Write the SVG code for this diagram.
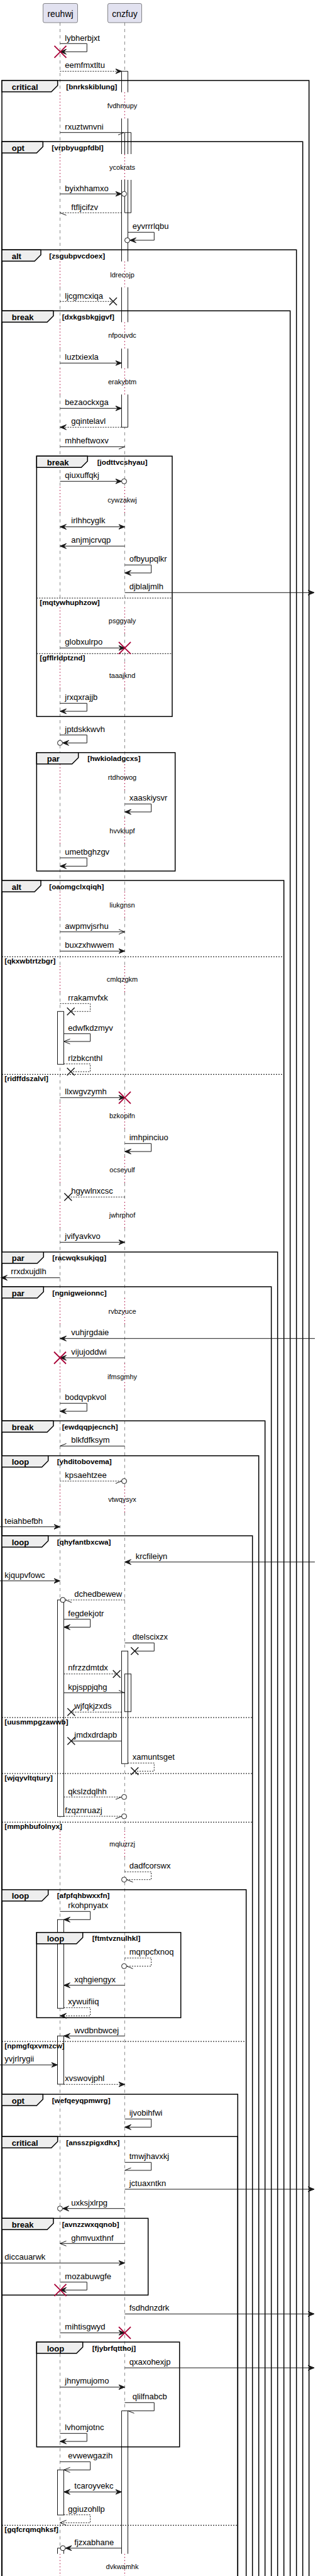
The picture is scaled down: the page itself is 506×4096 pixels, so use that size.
<svg xmlns="http://www.w3.org/2000/svg" xmlns:xlink="http://www.w3.org/1999/xlink" width="506" height="4096" viewBox="0 0 506 4096">
<style>
text{font-family:"Liberation Sans",Arial,sans-serif;fill:#000}
.pn{font-size:14px;text-anchor:middle}
.m{font-size:13px}
.dt{font-size:11px;text-anchor:middle}
.fl{font-size:13px;font-weight:bold}
.fg{font-size:11.7px;font-weight:bold}
.pb{fill:#E2E2F0;stroke:#181818;stroke-width:0.5}
.ll{fill:none;stroke:#181818;stroke-width:0.5;stroke-dasharray:5,5}
.dl{fill:none;stroke:#A80036;stroke-width:1;stroke-dasharray:1.5,3.5}
.ab{fill:#fff;stroke:none}
.act{fill:#fff;stroke:#181818;stroke-width:1}
.ae{fill:none;stroke:#181818;stroke-width:1}
.fr{fill:none;stroke:#000;stroke-width:1.5}
.tb{fill:#EEEEEE;stroke:#000;stroke-width:1.5}
.sp{fill:none;stroke:#000;stroke-width:1;stroke-dasharray:2,2}
.ml{fill:none;stroke:#181818;stroke-width:1}
.d{stroke-dasharray:2,2}
.rx{fill:none;stroke:#A80036;stroke-width:1.8}
.bx{fill:none;stroke:#181818;stroke-width:1.5}
.ci{fill:#fff;stroke:#181818;stroke-width:1}
</style>
<defs>
<marker id="af" viewBox="0 -5 12 10" refX="10" refY="0" markerWidth="12" markerHeight="10" markerUnits="userSpaceOnUse" orient="auto-start-reverse"><path d="M0,-4L10,0L0,4L4,0Z" fill="#181818" stroke="#181818" stroke-width="1"/></marker>
<marker id="ao" viewBox="0 -5 12 10" refX="10" refY="0" markerWidth="12" markerHeight="10" markerUnits="userSpaceOnUse" orient="auto"><path d="M0,-4L10,0L0,4" fill="none" stroke="#181818" stroke-width="1"/></marker>
<marker id="hp" viewBox="0 -5 12 10" refX="10" refY="0" markerWidth="12" markerHeight="10" markerUnits="userSpaceOnUse" orient="auto"><path d="M0,4L10,0" fill="none" stroke="#181818" stroke-width="1"/></marker>
<marker id="hn" viewBox="0 -5 12 10" refX="10" refY="0" markerWidth="12" markerHeight="10" markerUnits="userSpaceOnUse" orient="auto"><path d="M0,-4L10,0" fill="none" stroke="#181818" stroke-width="1"/></marker>
<path id="rX" class="rx" d="M-9.5,-9.5L9.5,9.5M9.5,-9.5L-9.5,9.5"/>
<path id="bX" class="bx" d="M-6,-6L6,6M6,-6L-6,6"/>
<circle id="cO" class="ci" r="4"/>
<path id="lls" d="M0,36V146.7M0,188.3V245M0,286V415.7M0,456.7V512.3M0,554.3V585.7M0,627.3V774M0,815.7V965.7M0,1007.3V1053.3M0,1095V1215M0,1256.7V1300M0,1341.7V1417.7M0,1459.3V1536M0,1577.7V1753.3M0,1795V1839.3M0,1881V1911M0,1952.7V2064M0,2105.7V2167.7M0,2209.3V2363.3M0,2405V2911M0,2952.7V4060.7"/>
<path id="dls" d="M0,146.7V188.3M0,245V286M0,415.7V456.7M0,512.3V554.3M0,585.7V627.3M0,774V815.7M0,965.7V1007.3M0,1053.3V1095M0,1215V1256.7M0,1300V1341.7M0,1417.7V1459.3M0,1536V1577.7M0,1753.3V1795M0,1839.3V1881M0,1911V1952.7M0,2064V2105.7M0,2167.7V2209.3M0,2363.3V2405M0,2911V2952.7M0,4060.7V4100"/>
</defs>
<rect width="506" height="4096" fill="#fff"/>

<g id="lifelines">
<use xlink:href="#lls" href="#lls" x="95.5" class="ll"/>
<use xlink:href="#lls" href="#lls" x="198.5" class="ll"/>
<use xlink:href="#dls" href="#dls" x="95.5" class="dl"/>
<use xlink:href="#dls" href="#dls" x="198.5" class="dl"/>
</g>

<g id="reuhwj"><rect class="pb" x="68.5" y="5.5" width="55" height="30.5" rx="2.5"/><text class="pn" x="96" y="26.5">reuhwj</text></g>
<g id="cnzfuy"><rect class="pb" x="171.5" y="5.5" width="54" height="30.5" rx="2.5"/><text class="pn" x="198.5" y="26.5">cnzfuy</text></g>

<g id="activations">
<rect class="ab" x="193.5" y="113.3" width="10" height="33.4"/>
<rect class="ab" x="193.5" y="188.3" width="10" height="56.7"/>
<rect class="ab" x="193.5" y="286" width="10" height="129.7"/>
<rect class="ab" x="193.5" y="456.7" width="10" height="55.6"/>
<rect class="ab" x="193.5" y="554.3" width="10" height="31.4"/>
<rect class="ab" x="193.5" y="627.3" width="10" height="52"/>
<rect class="ab" x="198.5" y="210.7" width="10" height="34.3"/>
<rect class="ab" x="198.5" y="286" width="10" height="52.3"/>
<path class="ae" d="M193.5,113.3H203.5M193.5,113.3V146.7M203.5,113.3V146.7M193.5,188.3V245M203.5,188.3V245M193.5,286V415.7M203.5,286V415.7M193.5,456.7V512.3M203.5,456.7V512.3M193.5,554.3V585.7M203.5,554.3V585.7M193.5,627.3V679.3M203.5,627.3V679.3M193.5,679.3H203.5"/>
<path class="ae" d="M198.5,210.7H208.5M198.5,210.7V245M208.5,210.7V245M198.5,286V338.3M208.5,286V338.3M198.5,338.3H208.5"/>
<rect class="act" x="193.5" y="2625.3" width="10" height="179"/>
<rect class="act" x="198.5" y="2661.7" width="10" height="60"/>
<path class="ae" d="M203.5,2661.7V2721.7"/>
<rect class="ab" x="193.5" y="3833.3" width="10" height="227.4"/>
<path class="ae" d="M193.5,3833.3H203.5M193.5,3833.3V4060.7M203.5,3833.3V4060.7"/>
<rect class="act" x="91.5" y="1608.3" width="10" height="84"/>
<rect class="act" x="91.5" y="2544" width="10" height="344.3"/>
<rect class="act" x="91.5" y="3052.3" width="10" height="141"/>
<rect class="act" x="91.5" y="3237.3" width="10" height="76.7"/>
<rect class="act" x="91.5" y="3927.3" width="10" height="71.7"/>
<rect class="ab" x="91.5" y="4051.7" width="10" height="9"/>
<path class="ae" d="M91.5,4051.7H101.5M91.5,4051.7V4060.7M101.5,4051.7V4060.7"/>
</g>

<g id="frames">
<g id="f-critical-bnrkskiblung"><path class="fr" d="M3,4120V128H491.7V4120"/><path class="tb" d="M3,128H91.7V136L81.7,146H3Z"/><text class="fl" x="18.7" y="142.5">critical</text><text class="fg" x="105.3" y="141.7">[bnrkskiblung]</text></g>
<g id="f-opt-vrpbyugpfdbl"><path class="fr" d="M3,4120V225.3H481.7V4120"/><path class="tb" d="M3,225.3H68.3V233.3L58.3,243.3H3Z"/><text class="fl" x="18.7" y="239.8">opt</text><text class="fg" x="82.3" y="239">[vrpbyugpfdbl]</text></g>
<g id="f-alt-zsgubpvcdoex"><path class="fr" d="M3,4120V397.3H471.7V4120"/><path class="tb" d="M3,397.3H65V405.3L55,415.3H3Z"/><text class="fl" x="18.7" y="411.8">alt</text><text class="fg" x="78.3" y="411">[zsgubpvcdoex]</text></g>
<g id="f-break-dxkgsbkgjgvf"><path class="fr" d="M3,4120V494.3H461.7V4120"/><path class="tb" d="M3,494.3H85V502.3L75,512.3H3Z"/><text class="fl" x="18.7" y="508.8">break</text><text class="fg" x="98.7" y="508">[dxkgsbkgjgvf]</text></g>
<g id="f-break-jodttvcshyau"><rect class="fr" x="58.3" y="725.3" width="215.7" height="414"/><path class="tb" d="M58.3,725.3H139.3V733.3L129.3,743.3H58.3Z"/><text class="fl" x="74.7" y="739.8">break</text><text class="fg" x="154.7" y="739">[jodttvcshyau]</text>
<path class="sp" d="M58.3,951H274"/><text class="fg" x="63.3" y="961.8">[mqtywhuphzow]</text>
<path class="sp" d="M58.3,1039.3H274"/><text class="fg" x="63.3" y="1050.1">[gfflrldptznd]</text></g>
<g id="f-par-hwkioladgcxs"><rect class="fr" x="58.3" y="1196.7" width="220.4" height="188.3"/><path class="tb" d="M58.3,1196.7H124.7V1204.7L114.7,1214.7H58.3Z"/><text class="fl" x="74.7" y="1211.2">par</text><text class="fg" x="139.3" y="1210.4">[hwkioladgcxs]</text></g>
<g id="f-alt-oaomgclxqiqh"><path class="fr" d="M3,4120V1400H451.7V4120"/><path class="tb" d="M3,1400H65V1408L55,1418H3Z"/><text class="fl" x="18.7" y="1414.5">alt</text><text class="fg" x="78.3" y="1413.7">[oaomgclxqiqh]</text>
<path class="sp" d="M3,1521.3H451.7"/><text class="fg" x="7.3" y="1532.1">[qkxwbtrtzbgr]</text>
<path class="sp" d="M3,1708.3H451.7"/><text class="fg" x="7.3" y="1719.1">[ridffdszalvl]</text></g>
<g id="f-par-racwqksukjqg"><path class="fr" d="M3,4120V1990.7H441.7V4120"/><path class="tb" d="M3,1990.7H69.3V1998.7L59.3,2008.7H3Z"/><text class="fl" x="18.7" y="2005.2">par</text><text class="fg" x="83.3" y="2004.4">[racwqksukjqg]</text></g>
<g id="f-par-ngnigweionnc"><path class="fr" d="M3,4120V2046H431.7V4120"/><path class="tb" d="M3,2046H69.3V2054L59.3,2064H3Z"/><text class="fl" x="18.7" y="2060.5">par</text><text class="fg" x="83.3" y="2059.7">[ngnigweionnc]</text></g>
<g id="f-break-ewdqqpjecnch"><path class="fr" d="M3,4120V2259.3H421.7V4120"/><path class="tb" d="M3,2259.3H85V2267.3L75,2277.3H3Z"/><text class="fl" x="18.7" y="2273.8">break</text><text class="fg" x="98.7" y="2273">[ewdqqpjecnch]</text></g>
<g id="f-loop-yhditobovema"><path class="fr" d="M3,4120V2314.7H411.7V4120"/><path class="tb" d="M3,2314.7H76.7V2322.7L66.7,2332.7H3Z"/><text class="fl" x="18.7" y="2329.2">loop</text><text class="fg" x="90.7" y="2328.4">[yhditobovema]</text></g>
<g id="f-loop-qhyfantbxcwa"><path class="fr" d="M3,4120V2442H401.7V4120"/><path class="tb" d="M3,2442H76.7V2450L66.7,2460H3Z"/><text class="fl" x="18.7" y="2456.5">loop</text><text class="fg" x="90.7" y="2455.7">[qhyfantbxcwa]</text>
<path class="sp" d="M3,2731H401.7"/><text class="fg" x="7.3" y="2741.8">[uusmmpgzawwb]</text>
<path class="sp" d="M3,2820H401.7"/><text class="fg" x="7.3" y="2830.8">[wjqyvltqtury]</text>
<path class="sp" d="M3,2897.3H401.7"/><text class="fg" x="7.3" y="2908.1">[mmphbufolnyx]</text></g>
<g id="f-loop-afpfqhbwxxfn"><path class="fr" d="M3,4120V3004.7H391.7V4120"/><path class="tb" d="M3,3004.7H76.7V3012.7L66.7,3022.7H3Z"/><text class="fl" x="18.7" y="3019.2">loop</text><text class="fg" x="90.7" y="3018.4">[afpfqhbwxxfn]</text>
<path class="sp" d="M3,3246H391.7"/><text class="fg" x="7.3" y="3256.8">[npmgfqxvmzcw]</text></g>
<g id="f-loop-ftmtvznulhkl"><rect class="fr" x="58.3" y="3072.7" width="229.4" height="135.6"/><path class="tb" d="M58.3,3072.7H131.7V3080.7L121.7,3090.7H58.3Z"/><text class="fl" x="74.7" y="3087.2">loop</text><text class="fg" x="146.7" y="3086.4">[ftmtvznulhkl]</text></g>
<g id="f-opt-wefqeyqpmwrg"><path class="fr" d="M3,4120V3330H378.3V4120"/><path class="tb" d="M3,3330H68.3V3338L58.3,3348H3Z"/><text class="fl" x="18.7" y="3344.5">opt</text><text class="fg" x="82.7" y="3343.7">[wefqeyqpmwrg]</text></g>
<g id="f-critical-ansszpigxdhx"><path class="fr" d="M3,4120V3397.3H378.3V4120"/><path class="tb" d="M3,3397.3H91.7V3405.3L81.7,3415.3H3Z"/><text class="fl" x="18.7" y="3411.8">critical</text><text class="fg" x="105.3" y="3411">[ansszpigxdhx]</text>
<path class="sp" d="M3,4015.3H378.3"/><text class="fg" x="7.3" y="4026.1">[gqfcrqmqhksf]</text></g>
<g id="f-break-avnzzwxqqnob"><rect class="fr" x="3" y="3527.3" width="232.7" height="122"/><path class="tb" d="M3,3527.3H85V3535.3L75,3545.3H3Z"/><text class="fl" x="18.7" y="3541.8">break</text><text class="fg" x="98.7" y="3541">[avnzzwxqqnob]</text></g>
<g id="f-loop-fjybrfqtthoj"><rect class="fr" x="58.3" y="3724" width="227.4" height="166.7"/><path class="tb" d="M58.3,3724H131.7V3732L121.7,3742H58.3Z"/><text class="fl" x="74.7" y="3738.5">loop</text><text class="fg" x="146.7" y="3737.7">[fjybrfqtthoj]</text></g>
</g>

<g id="connectors">
<g><path class="ml" d="M95.5,69.3H138.3V82.3H95.5" marker-end="url(#af)"/><use href="#rX" xlink:href="#rX" x="96" y="82.3"/><text class="m" x="103.3" y="64.5">lybherbjxt</text></g>
<g><path class="ml d" d="M95.5,113.3H193.5" marker-end="url(#af)"/><text class="m" x="103.3" y="107.5">eemfmxtltu</text></g>
<g><path class="ml" d="M95.5,210.7H197.5" marker-end="url(#hp)"/><text class="m" x="103.3" y="205.5">rxuztwnvni</text></g>
<g><path class="ml" d="M95.5,308.3H193.5" marker-end="url(#af)"/><use href="#cO" xlink:href="#cO" x="197.5" y="308.3"/><text class="m" x="103.3" y="303.5">byixhhamxo</text></g>
<g><path class="ml d" d="M193.5,338.3H95.5" marker-end="url(#hn)"/><text class="m" x="113.3" y="333.5">ftfljcifzv</text></g>
<g><path class="ml" d="M203.5,369.3H245.3V382H206.5" marker-end="url(#af)"/><use href="#cO" xlink:href="#cO" x="202.5" y="382"/><text class="m" x="210.7" y="364.3">eyvrrrlqbu</text></g>
<g><path class="ml d" d="M95.5,479.3H180"/><use href="#bX" xlink:href="#bX" x="180" y="479.3"/><text class="m" x="103.3" y="474.5">ljcgmcxiqa</text></g>
<g><path class="ml" d="M95.5,577.3H193.5" marker-end="url(#af)"/><text class="m" x="103.3" y="572">luztxiexla</text></g>
<g><path class="ml" d="M95.5,649.3H193.5" marker-end="url(#af)"/><text class="m" x="103.3" y="644">bezaockxga</text></g>
<g><path class="ml d" d="M193.5,679.3H95.5" marker-end="url(#af)"/><text class="m" x="113.3" y="674.3">gqintelavl</text></g>
<g><path class="ml" d="M95.5,710.3H198.5" marker-end="url(#hp)"/><text class="m" x="103.3" y="705">mhheftwoxv</text></g>
<g><path class="ml" d="M95.5,765.3H193.5" marker-end="url(#af)"/><use href="#cO" xlink:href="#cO" x="197.5" y="765.3"/><text class="m" x="103.3" y="760">qiuxuffqkj</text></g>
<g><path class="ml" d="M95.5,837.7H198.5" marker-start="url(#af)" marker-end="url(#af)"/><text class="m" x="113.3" y="832.3">irlhhcyglk</text></g>
<g><path class="ml" d="M198.5,868.3H95.5" marker-end="url(#af)"/><text class="m" x="113.3" y="863.3">anjmjcrvqp</text></g>
<g><path class="ml" d="M198.5,898.3H240.7V911H198.5" marker-end="url(#af)"/><text class="m" x="205.7" y="893.3">ofbyupqlkr</text></g>
<g><path class="ml" d="M198.5,942.3H500" marker-end="url(#af)"/><text class="m" x="205.7" y="937">djblaljmlh</text></g>
<g><path class="ml" d="M95.5,1030.3H198.5" marker-end="url(#af)"/><use href="#rX" xlink:href="#rX" x="198.5" y="1030.3"/><text class="m" x="103.3" y="1025">globxulrpo</text></g>
<g><path class="ml" d="M95.5,1118.3H138.3V1131H95.5" marker-end="url(#af)"/><text class="m" x="103.3" y="1113.3">jrxqxrajjb</text></g>
<g><path class="ml" d="M95.5,1168.7H138.3V1181.3H99.5" marker-end="url(#af)"/><use href="#cO" xlink:href="#cO" x="95.5" y="1181.3"/><text class="m" x="103.3" y="1163.7">jptdskkwvh</text></g>
<g><path class="ml" d="M198.5,1278.3H240.7V1291H198.5" marker-end="url(#af)"/><text class="m" x="205.7" y="1273.3">xaaskiysvr</text></g>
<g><path class="ml" d="M95.5,1364H138.3V1377.3H95.5" marker-end="url(#af)"/><text class="m" x="103.3" y="1359">umetbghzgv</text></g>
<g><path class="ml" d="M95.5,1481.7H198.5" marker-end="url(#ao)"/><text class="m" x="103.3" y="1476.5">awpmvjsrhu</text></g>
<g><path class="ml" d="M95.5,1512.3H198.5" marker-end="url(#af)"/><text class="m" x="103.3" y="1507">buxzxhwwem</text></g>
<g><path class="ml d" d="M95.5,1595.7H143.7V1608.3H112.7"/><use href="#bX" xlink:href="#bX" x="112.7" y="1608.3"/><text class="m" x="108.3" y="1590.7">rrakamvfxk</text></g>
<g><path class="ml" d="M101.5,1643.7H143.7V1656H101.5" marker-end="url(#ao)"/><text class="m" x="108.3" y="1638.7">edwfkdzmyv</text></g>
<g><path class="ml d" d="M101.5,1691.7H143.7V1704H112.7"/><use href="#bX" xlink:href="#bX" x="112.7" y="1704"/><text class="m" x="108.3" y="1686.7">rlzbkcnthl</text></g>
<g><path class="ml" d="M95.5,1745.3H198.5" marker-end="url(#af)"/><use href="#rX" xlink:href="#rX" x="198.5" y="1745.3"/><text class="m" x="103.3" y="1740">llxwgvzymh</text></g>
<g><path class="ml" d="M198.5,1818.3H240.7V1831H198.5" marker-end="url(#af)"/><text class="m" x="205.7" y="1813.3">imhpinciuo</text></g>
<g><path class="ml d" d="M198.5,1903.3H108.3"/><use href="#bX" xlink:href="#bX" x="108.3" y="1903.3"/><text class="m" x="113.3" y="1898">hgywlnxcsc</text></g>
<g><path class="ml" d="M95.5,1975.3H198.5" marker-end="url(#af)"/><text class="m" x="103.3" y="1970">jvifyavkvo</text></g>
<g><path class="ml" d="M95.5,2031.7H1.5" marker-end="url(#af)"/><text class="m" x="17.3" y="2026.3">rrxdxujdlh</text></g>
<g><path class="ml" d="M501,2128.3H95.5" marker-end="url(#af)"/><text class="m" x="113.3" y="2123.3">vuhjrgdaie</text></g>
<g><path class="ml" d="M198.5,2159H95.5" marker-end="url(#af)"/><use href="#rX" xlink:href="#rX" x="95.5" y="2159"/><text class="m" x="113.3" y="2153.7">vijujoddwi</text></g>
<g><path class="ml" d="M95.5,2231.3H138.3V2244H95.5" marker-end="url(#af)"/><text class="m" x="103.3" y="2226.3">bodqvpkvol</text></g>
<g><path class="ml" d="M198.5,2299.3H95.5" marker-end="url(#hp)"/><text class="m" x="113.3" y="2294.3">blkfdfksym</text></g>
<g><path class="ml d" d="M95.5,2355H193.5" marker-end="url(#hp)"/><use href="#cO" xlink:href="#cO" x="197.5" y="2355"/><text class="m" x="103.3" y="2350">kpsaehtzee</text></g>
<g><path class="ml" d="M0,2427.7H95.5" marker-end="url(#af)"/><text class="m" x="7.3" y="2422.5">teiahbefbh</text></g>
<g><path class="ml" d="M501,2483.7H198.5" marker-end="url(#af)"/><text class="m" x="215.7" y="2478.5">krcfileiyn</text></g>
<g><path class="ml" d="M0,2513.7H95.5" marker-end="url(#af)"/><text class="m" x="7.3" y="2508.5">kjqupvfowc</text></g>
<g><path class="ml d" d="M198.5,2544H104" marker-end="url(#hn)"/><use href="#cO" xlink:href="#cO" x="100" y="2544"/><text class="m" x="118.3" y="2538.5">dchedbewew</text></g>
<g><path class="ml" d="M101.5,2574.7H143.7V2587.3H101.5" marker-end="url(#af)"/><text class="m" x="108.3" y="2569.7">fegdekjotr</text></g>
<g><path class="ml" d="M198.5,2612.3H245.3V2625.3H214.3"/><use href="#bX" xlink:href="#bX" x="214.3" y="2625.3"/><text class="m" x="210.7" y="2607.3">dtelscixzx</text></g>
<g><path class="ml d" d="M101.5,2661.7H185.7"/><use href="#bX" xlink:href="#bX" x="185.7" y="2661.7"/><text class="m" x="108.3" y="2656.3">nfrzzdmtdx</text></g>
<g><path class="ml" d="M101.5,2691.7H198.5" marker-end="url(#hn)"/><text class="m" x="108.3" y="2686.5">kpjsppjqhg</text></g>
<g><path class="ml d" d="M193.5,2722.3H113.3"/><use href="#bX" xlink:href="#bX" x="113.3" y="2722.3"/><text class="m" x="118.3" y="2717">wjfqkjzxds</text></g>
<g><path class="ml" d="M193.5,2768.3H113.3"/><use href="#bX" xlink:href="#bX" x="113.3" y="2768.3"/><text class="m" x="118.3" y="2763">jmdxdrdapb</text></g>
<g><path class="ml d" d="M203.5,2803.3H245.3V2816.3H214.3"/><use href="#bX" xlink:href="#bX" x="214.3" y="2816.3"/><text class="m" x="210.7" y="2798.3">xamuntsget</text></g>
<g><path class="ml d" d="M101.5,2857.3H193.5" marker-end="url(#hp)"/><use href="#cO" xlink:href="#cO" x="197.5" y="2857.3"/><text class="m" x="108.3" y="2852.5">qkslzdqlhh</text></g>
<g><path class="ml d" d="M101.5,2888H193.5" marker-end="url(#hp)"/><use href="#cO" xlink:href="#cO" x="197.5" y="2888"/><text class="m" x="103.3" y="2882.7">fzqznruazj</text></g>
<g><path class="ml d" d="M198.5,2976.3H240.7V2988.7H201.5" marker-end="url(#hn)"/><use href="#cO" xlink:href="#cO" x="197.5" y="2988.7"/><text class="m" x="205.7" y="2971.3">dadfcorswx</text></g>
<g><path class="ml" d="M95.5,3039.3H143.7V3052.3H101.5" marker-end="url(#af)"/><text class="m" x="108.3" y="3034.3">rkohpnyatx</text></g>
<g><path class="ml d" d="M198.5,3113.3H240.7V3126.3H201.5" marker-end="url(#hn)"/><use href="#cO" xlink:href="#cO" x="197.5" y="3126.3"/><text class="m" x="205.7" y="3108.3">mqnpcfxnoq</text></g>
<g><path class="ml" d="M198.5,3156.7H101.5" marker-end="url(#af)"/><text class="m" x="118.3" y="3151.7">xqhgiengyx</text></g>
<g><path class="ml d" d="M101.5,3192.3H143.7V3205.3H95.5" marker-end="url(#af)"/><text class="m" x="108.3" y="3187.3">xywuifiiq</text></g>
<g><path class="ml" d="M198.5,3237.3H101.5" marker-end="url(#af)"/><text class="m" x="118.3" y="3232.5">wvdbnbwcej</text></g>
<g><path class="ml" d="M0,3283.3H91.5" marker-end="url(#af)"/><text class="m" x="7.3" y="3278.3">yvjrlrygii</text></g>
<g><path class="ml d" d="M101.5,3314.3H198.5" marker-end="url(#af)"/><text class="m" x="103.3" y="3308.5">xvswovjphl</text></g>
<g><path class="ml" d="M198.5,3369.3H240.7V3382.3H198.5" marker-end="url(#af)"/><text class="m" x="205.7" y="3364.3">ijvobihfwi</text></g>
<g><path class="ml" d="M198.5,3438.3H240.7V3451H198.5" marker-end="url(#hp)"/><text class="m" x="205.7" y="3433.3">tmwjhavxkj</text></g>
<g><path class="ml" d="M198.5,3481H500" marker-end="url(#af)"/><text class="m" x="205.7" y="3476">jctuaxntkn</text></g>
<g><path class="ml" d="M198.5,3511.7H99.5" marker-end="url(#af)"/><use href="#cO" xlink:href="#cO" x="95.5" y="3511.7"/><text class="m" x="113.3" y="3506.7">uxksjxlrpg</text></g>
<g><path class="ml" d="M198.5,3567.3H95.5" marker-end="url(#ao)"/><text class="m" x="113.3" y="3562.5">ghmvuxthnf</text></g>
<g><path class="ml" d="M0,3598.3H198.5" marker-end="url(#af)"/><text class="m" x="7.3" y="3593">diccauarwk</text></g>
<g><path class="ml" d="M95.5,3628.7H138.3V3641.3H95.5" marker-end="url(#af)"/><use href="#rX" xlink:href="#rX" x="96" y="3641.3"/><text class="m" x="103.3" y="3623.7">mozabuwgfe</text></g>
<g><path class="ml" d="M198.5,3679.3H500" marker-end="url(#af)"/><text class="m" x="205.7" y="3674">fsdhdnzdrk</text></g>
<g><path class="ml" d="M95.5,3709.3H198.5" marker-end="url(#af)"/><use href="#rX" xlink:href="#rX" x="198.5" y="3709.3"/><text class="m" x="103.3" y="3704.3">mihtisgwyd</text></g>
<g><path class="ml" d="M198.5,3765H500" marker-end="url(#af)"/><text class="m" x="205.7" y="3760">qxaxohexjp</text></g>
<g><path class="ml" d="M95.5,3795.7H198.5" marker-end="url(#af)"/><text class="m" x="103.3" y="3790.3">jhnymujomo</text></g>
<g><path class="ml" d="M198.5,3820.3H245.3V3833.3H203.5" marker-end="url(#hn)"/><text class="m" x="210.7" y="3815.3">qlilfnabcb</text></g>
<g><path class="ml" d="M95.5,3869.3H138.3V3882H95.5" marker-end="url(#af)"/><text class="m" x="103.3" y="3864.3">lvhomjotnc</text></g>
<g><path class="ml" d="M95.5,3914.3H143.7V3927.3H101.5" marker-end="url(#ao)"/><text class="m" x="108.3" y="3909.3">evwewgazih</text></g>
<g><path class="ml" d="M101.5,3962.3H193.5" marker-start="url(#af)" marker-end="url(#af)"/><text class="m" x="118.3" y="3957">tcaroyvekc</text></g>
<g><path class="ml d" d="M101.5,3998.7H143.7V4011.3H95.5" marker-end="url(#ao)"/><text class="m" x="108.3" y="3993.7">ggiuzohllp</text></g>
<g><path class="ml" d="M193.5,4051.7H104" marker-end="url(#af)"/><use href="#cO" xlink:href="#cO" x="100" y="4051.7"/><text class="m" x="118.3" y="4046.7">fjzxabhane</text></g>
</g>

<g id="delays">
<text class="dt" x="194.5" y="171.7">fvdhmupy</text>
<text class="dt" x="194.5" y="270">ycokrats</text>
<text class="dt" x="194.5" y="440.7">ldrecojp</text>
<text class="dt" x="194.5" y="537.3">nfpouvdc</text>
<text class="dt" x="194.5" y="610.7">erakybtm</text>
<text class="dt" x="194.5" y="799">cywzakwj</text>
<text class="dt" x="194.5" y="990.7">psggyaly</text>
<text class="dt" x="194.5" y="1078.3">taaajknd</text>
<text class="dt" x="194.5" y="1240">rtdhowog</text>
<text class="dt" x="194.5" y="1325">hvvklupf</text>
<text class="dt" x="194.5" y="1442.7">liukgnsn</text>
<text class="dt" x="194.5" y="1561">cmlqzgkm</text>
<text class="dt" x="194.5" y="1778.3">bzkopifn</text>
<text class="dt" x="194.5" y="1864.3">ocseyulf</text>
<text class="dt" x="194.5" y="1936">jwhrphof</text>
<text class="dt" x="194.5" y="2089">rvbzyuce</text>
<text class="dt" x="194.5" y="2192.7">ifmsgmhy</text>
<text class="dt" x="194.5" y="2388.3">vtwqysyx</text>
<text class="dt" x="194.5" y="2936">mqluzrzj</text>
<text class="dt" x="194.5" y="4085">dvkwamhk</text>
</g>
</svg>
